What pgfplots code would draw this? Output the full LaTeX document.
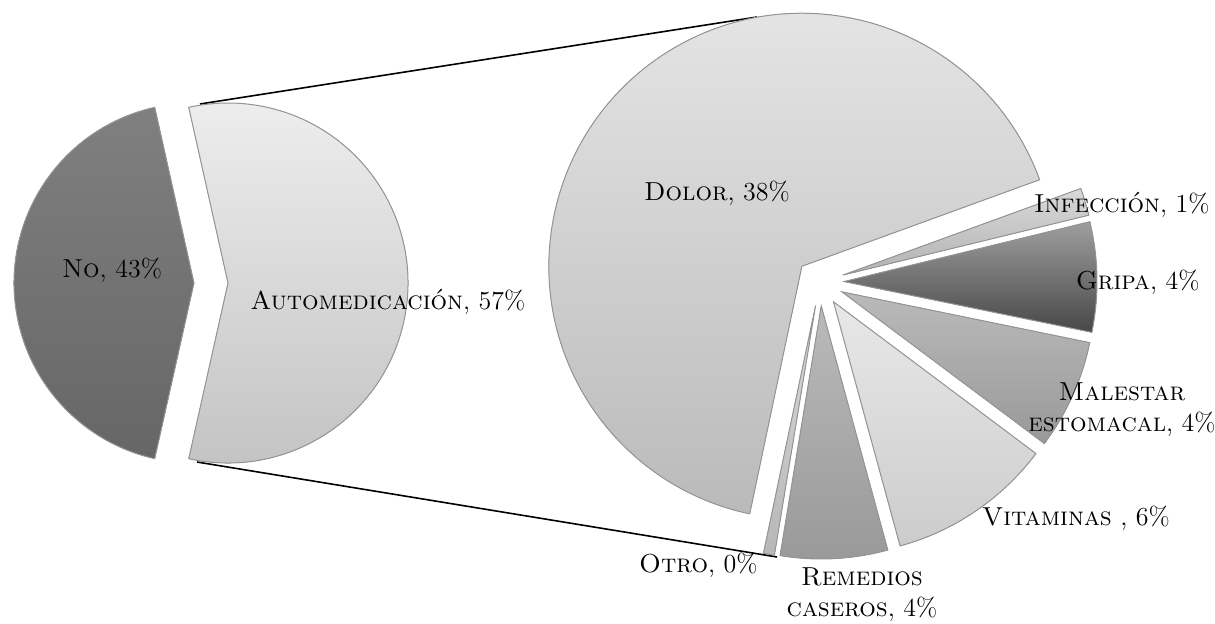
\documentclass[border=0pt]{standalone}
\usepackage{pgfplots}
\usepackage{pgfplotstable}
\pgfplotsset{compat=1.18}

% first pie: share of all answers (%)
\pgfplotstableread{
label value
No 43
Automedicacion 57
}\tabA
% second pie: breakdown of Automedicacion (% of all answers)
\pgfplotstableread{
label value
Infeccion 1.0
Gripa 4.0
Malestar 4.0
Vitaminas 6.0
Remedios 3.9
Otro 0.4
Dolor 37.7
}\tabB

\newcommand\prep[6]{% name, cx, cy, start, end, explode
  \pgfmathsetmacro\tmpm{(#4+#5)/2}%
  \pgfmathsetmacro\tmpx{#2+#6*cos(\tmpm)}%
  \pgfmathsetmacro\tmpy{#3+#6*sin(\tmpm)}%
  \expandafter\xdef\csname #1x\endcsname{\tmpx}%
  \expandafter\xdef\csname #1y\endcsname{\tmpy}%
  \expandafter\xdef\csname #1s\endcsname{#4}%
  \expandafter\xdef\csname #1e\endcsname{#5}%
}
% left pie
\pgfplotstablegetelem{0}{value}\of\tabA \edef\vNo{\pgfplotsretval}
\pgfplotstablegetelem{1}{value}\of\tabA \edef\vAu{\pgfplotsretval}
\pgfmathsetmacro\halfNo{180*\vNo/(\vNo+\vAu)}
\pgfmathsetmacro\sNo{180-\halfNo}
\pgfmathsetmacro\eNo{180+\halfNo}
\pgfmathsetmacro\sAu{\halfNo-180}
\prep{aNo}{211}{340}{\sNo}{\eNo}{17}
\prep{aAu}{211}{340}{\sAu}{\sNo}{17}
% right pie
\gdef\totB{0}
\foreach \i in {0,...,6}{%
  \pgfplotstablegetelem{\i}{value}\of\tabB
  \pgfmathparse{\totB+\pgfplotsretval}\xdef\totB{\pgfmathresult}}
\gdef\cum{20}
\foreach \i in {0,...,6}{%
  \pgfplotstablegetelem{\i}{value}\of\tabB
  \pgfmathparse{\cum-360*\pgfplotsretval/\totB}\let\e\pgfmathresult
  \prep{b\i}{820}{341}{\cum}{\e}{24}%
  \xdef\cum{\e}}

\newcommand\drawslice[3]{%
  \edef\tmp{\noexpand\fill[#3] (axis cs:\csname #1x\endcsname,\csname #1y\endcsname) -- ++(\csname #1s\endcsname:#2) arc[start angle=\csname #1s\endcsname, end angle=\csname #1e\endcsname, radius=#2] -- cycle;}\tmp}

\tikzset{
  edge/.style={draw=black!42, line width=0.5pt},
  stNo/.style={edge, top color=black!50, bottom color=black!60},
  stAu/.style={edge, top color=black!7, bottom color=black!24},
  bst0/.style={edge, top color=black!15, bottom color=black!30},
  bst1/.style={edge, top color=black!38, bottom color=black!72},
  bst2/.style={edge, top color=black!27, bottom color=black!40},
  bst3/.style={edge, top color=black!9, bottom color=black!20},
  bst4/.style={edge, top color=black!27, bottom color=black!40},
  bst5/.style={edge, top color=black!15, bottom color=black!28},
  bst6/.style={edge, top color=black!10, bottom color=black!27},
  lbl/.style={font=\fontsize{13}{15.5}\selectfont, inner sep=0pt, align=center},
}

\begin{document}
\begin{tikzpicture}
\begin{axis}[
  scale only axis, width=607.5pt, height=311.5pt,
  xmin=0, xmax=1215, ymin=0, ymax=623,
  hide axis, clip=false,
]
% connector lines
\addplot[black, line width=0.8pt, mark=none] coordinates {(200,519) (757,606)};
\addplot[black, line width=0.8pt, mark=none] coordinates {(197,161) (777,66)};
% slices
\drawslice{aNo}{90pt}{stNo}
\drawslice{aAu}{90pt}{stAu}
\pgfplotsinvokeforeach{0,...,6}{\drawslice{b#1}{126.5pt}{bst#1}}
% labels
\node[lbl] at (axis cs:112,353) {\textsc{No}, 43\%};
\node[lbl, anchor=west] at (axis cs:250,321) {\textsc{Automedicación}, 57\%};
\node[lbl] at (axis cs:717,430) {\textsc{Dolor}, 38\%};
\node[lbl, anchor=east] at (axis cs:1210,418) {\textsc{Infección}, 1\%};
\node[lbl, anchor=east] at (axis cs:1200,341) {\textsc{Gripa}, 4\%};
\node[lbl] at (axis cs:1122,213) {\textsc{Malestar}\\\textsc{estomacal}, 4\%};
\node[lbl] at (axis cs:1076,105) {\textsc{Vitaminas} , 6\%};
\node[lbl] at (axis cs:862,28) {\textsc{Remedios}\\\textsc{caseros}, 4\%};
\node[lbl, anchor=east] at (axis cs:758,58) {\textsc{Otro}, 0\%};
\end{axis}
\pgfresetboundingbox
\path[use as bounding box] (current axis.south west) rectangle (current axis.north east);
\end{tikzpicture}
\end{document}
